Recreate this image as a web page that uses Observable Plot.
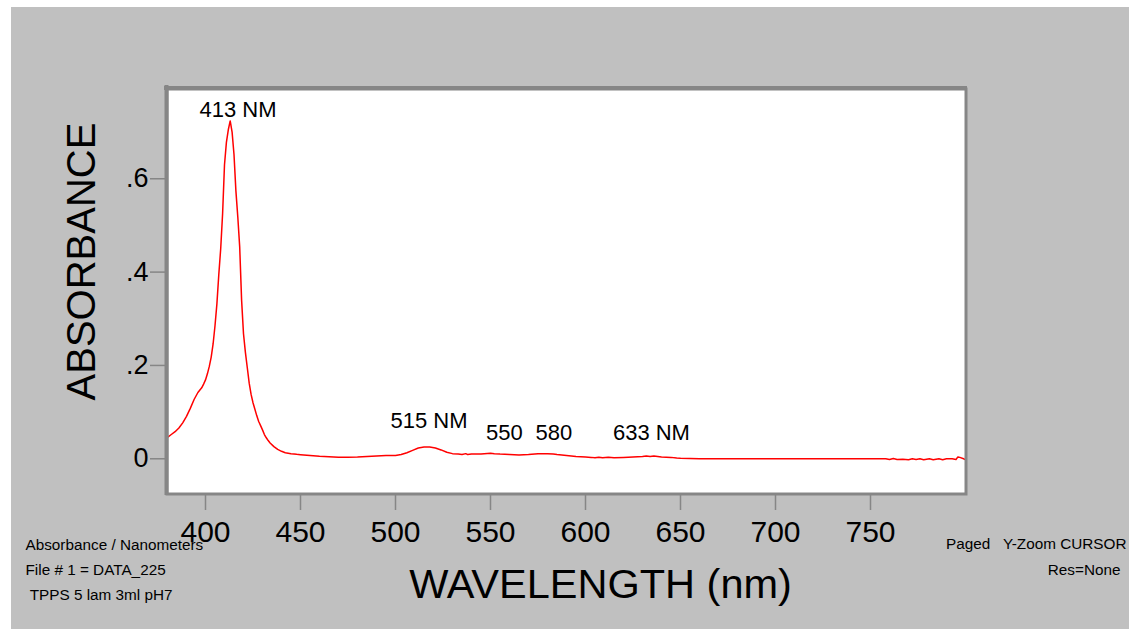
<!DOCTYPE html>
<html>
<head>
<meta charset="utf-8">
<script src="https://cdn.jsdelivr.net/npm/d3@7"></script>
<script src="https://cdn.jsdelivr.net/npm/@observablehq/plot@0.6"></script>
<style>
  html, body { margin: 0; padding: 0; background: #ffffff; overflow: hidden; }
  #panel { position: absolute; left: 11px; top: 7px; width: 1118px; height: 622px; background: #c0c0c0; }
  #chart { position: absolute; left: 0; top: 0; }
</style>
</head>
<body>
<div id="panel"></div>
<div id="chart"></div>
<script>
// UV-Vis absorbance spectrum of TPPS (Soret band + Q bands)
const wavelengths = [
  380, 382, 384, 386, 388, 390, 392, 394, 396, 398, 399, 400, 401, 402, 403, 404, 405, 406, 407, 408,
  409, 410, 411, 412, 413, 414, 415, 416, 417, 418, 419, 420, 421, 422, 423, 424, 425, 426, 427, 428,
  429, 430, 431, 432, 433, 434, 436, 438, 440, 442, 445, 448, 450, 455, 460, 465, 470, 475, 480, 485,
  490, 495, 500, 503, 506, 509, 512, 515, 518, 521, 524, 527, 530, 533, 535, 537, 538, 540, 545, 550,
  552, 555, 560, 565, 570, 575, 580, 583, 585, 590, 595, 600, 603, 605, 607, 609, 612, 615, 620, 625,
  630, 632, 634, 636, 640, 645, 648, 650, 655, 660, 680, 700, 720, 740, 758, 760, 762, 764, 767, 770,
  772, 774, 776, 778, 781, 783, 786, 788, 790, 793, 795, 796, 797, 799, 800
];
const absorbance = [
  0.046, 0.052, 0.058, 0.066, 0.077, 0.091, 0.108, 0.127, 0.142, 0.152, 0.160, 0.169, 0.182, 0.198, 0.218, 0.246, 0.285, 0.332, 0.395, 0.450,
  0.525, 0.630, 0.678, 0.705, 0.724, 0.700, 0.652, 0.574, 0.518, 0.454, 0.340, 0.268, 0.228, 0.195, 0.162, 0.138, 0.120, 0.106, 0.092, 0.080,
  0.071, 0.062, 0.052, 0.045, 0.039, 0.034, 0.026, 0.020, 0.016, 0.013, 0.011, 0.0095, 0.0088, 0.007, 0.0055, 0.0045, 0.0035, 0.0035, 0.004, 0.005,
  0.006, 0.007, 0.007, 0.009, 0.013, 0.018, 0.023, 0.025, 0.025, 0.023, 0.019, 0.014, 0.011, 0.010, 0.009, 0.011, 0.009, 0.010, 0.010, 0.012,
  0.011, 0.010, 0.009, 0.008, 0.009, 0.011, 0.011, 0.010, 0.009, 0.007, 0.005, 0.004, 0.003, 0.002, 0.0035, 0.002, 0.0035, 0.002, 0.003, 0.004,
  0.005, 0.006, 0.005, 0.006, 0.004, 0.003, 0.0015, 0.001, 0.0005, 0, 0, 0, 0, 0, 0, -0.0015, 0.0005, -0.0015, -0.001, -0.002,
  0, -0.0015, 0, -0.002, 0, -0.002, 0, -0.002, 0, 0, -0.0015, 0.004, 0.003, 0, -0.002
];

const xTicks = [400, 450, 500, 550, 600, 650, 700, 750];
const yTicks = [0, 0.2, 0.4, 0.6];

// Peak annotations, anchored in data units (nm, absorbance)
const peakLabels = ["413 NM", "515 NM", "550", "580", "633 NM"];
const peakLabelX = [417.1, 517.6, 557.3, 583.3, 634.7];
const peakLabelY = [0.733, 0.067, 0.041, 0.041, 0.041];

const xTitle = "WAVELENGTH (nm)";
const yTitle = "ABSORBANCE";
const notesLeft = ["Absorbance / Nanometers", "File # 1 = DATA_225", "\u00a0TPPS 5 lam 3ml pH7"];
const notesRight = ["Paged\u00a0\u00a0\u00a0Y-Zoom CURSOR", "Res=None"];

const spectrum = wavelengths.map((w, i) => ({w, a: absorbance[i]}));
const xDomain = [380, 800];
const yDomain = [-0.0744, 0.7913];
const font = "'Liberation Sans', Arial, Helvetica, sans-serif";
const edge = "#868686";

const yFormat = d => d === 0 ? "0" : "." + Math.round(d * 10);

const chart = Plot.plot({
  width: 1129,
  height: 629,
  marginLeft: 167,
  marginRight: 164,
  marginTop: 89,
  marginBottom: 136,
  style: {background: "transparent", fontFamily: font, color: "black"},
  x: {domain: xDomain},
  y: {domain: yDomain},
  marks: [
    Plot.frame({fill: "white"}),
    Plot.axisX({ticks: xTicks, tickSize: 17, tickPadding: 10, fontSize: 30, stroke: edge, strokeWidth: 1.5, fill: "black", label: null, tickFormat: d => String(d)}),
    Plot.axisY({ticks: yTicks, tickSize: 17, tickPadding: 2, fontSize: 27, stroke: edge, strokeWidth: 1.5, fill: "black", label: null, tickFormat: yFormat}),
    Plot.line(spectrum, {x: "w", y: "a", stroke: "#ff0000", strokeWidth: 1.5, clip: true}),
    // bevelled plot border: heavier on the top and left
    Plot.frame({stroke: edge, strokeWidth: 3, inset: -0.5}),
    Plot.ruleX([xDomain[0]], {stroke: edge, strokeWidth: 4, dx: -1, insetTop: -4, insetBottom: -2}),
    Plot.ruleY([yDomain[1]], {stroke: edge, strokeWidth: 4, dy: -1.5, insetLeft: -3, insetRight: -2}),
    Plot.text(peakLabels, {x: (d, i) => peakLabelX[i], y: (d, i) => peakLabelY[i], text: d => d, fontSize: 22, lineAnchor: "bottom", textAnchor: "middle", fill: "black"}),
    Plot.text([yTitle], {frameAnchor: "left", text: d => d, rotate: -90, fontSize: 40, textAnchor: "middle", dx: -85, dy: -30, fill: "black"}),
    Plot.text([xTitle], {frameAnchor: "bottom", text: d => d, fontSize: 41.5, textAnchor: "middle", dx: 34, dy: 104, lineAnchor: "bottom", fill: "black"}),
    ...notesLeft.map((t, i) => Plot.text([t], {frameAnchor: "bottom-left", text: d => d, fontSize: 15.3, textAnchor: "start", lineAnchor: "bottom", dx: -142, dy: 56 + 25 * i, fill: "black"})),
    Plot.text([notesRight[0]], {frameAnchor: "bottom-right", text: d => d, fontSize: 15.3, textAnchor: "end", lineAnchor: "bottom", dx: 161, dy: 55.5, fill: "black"}),
    Plot.text([notesRight[1]], {frameAnchor: "bottom-right", text: d => d, fontSize: 15.3, textAnchor: "end", lineAnchor: "bottom", dx: 155, dy: 81, fill: "black"})
  ]
});

document.getElementById("chart").append(chart);
</script>
</body>
</html>
